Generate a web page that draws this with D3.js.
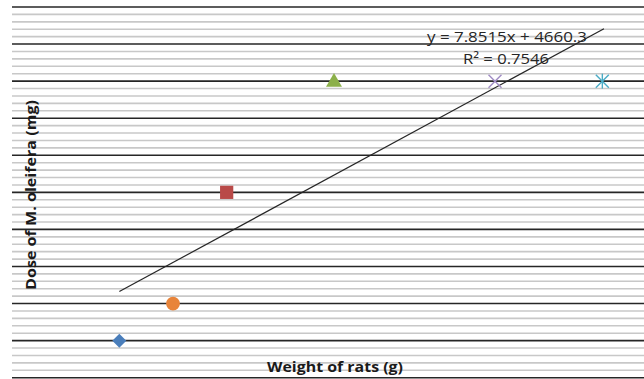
<!DOCTYPE html>
<html><head><meta charset="utf-8">
<script src="https://cdn.jsdelivr.net/npm/d3@7"></script>
<style>body{margin:0;background:#fff;overflow:hidden}svg{display:block}</style>
</head><body>
<svg id="c" width="644" height="379"></svg>
<script>
const weights = [200, 210, 220, 240, 270, 290];
const doses = [6100, 6200, 6500, 6800, 6800, 6800];
const seriesNames = ["s1","s2","s3","s4","s5","s6"];
const markerShapes = ["diamond","circle","square","triangle","x","star"];
const markerColors = ["#4a7ebb","#e8843a","#b94a48","#8cb04a","#a08cc4","#4bacc6"];
const equationText = "y = 7.8515x + 4660.3";
const r2Text = "R² = 0.7546";
const xTitle = "Weight of rats (g)";
const yTitle = "Dose of M. oleifera (mg)";
const yMajorTicks = d3.range(6000, 7001, 100);
const yMinorTicks = d3.range(6000, 7001, 20).filter(v => v % 100 !== 0);

const svg = d3.select("#c");
const x = d3.scaleLinear().domain([180, 300]).range([12, 656]);
const y = d3.scaleLinear().domain([6000, 7000]).range([377.7, 7]);
const FONT = "'Open Sans', 'Liberation Sans', sans-serif";

// gridlines
svg.append("g").selectAll("line").data(yMinorTicks).join("line")
  .attr("x1", 12).attr("x2", 644)
  .attr("y1", d => y(d)).attr("y2", d => y(d))
  .attr("stroke", "#c8c8c8").attr("stroke-width", 1.6);
svg.append("g").selectAll("line").data(yMajorTicks).join("line")
  .attr("x1", 12).attr("x2", 644)
  .attr("y1", d => y(d)).attr("y2", d => y(d))
  .attr("stroke", "#262626").attr("stroke-width", 1.6);

// trendline (least squares)
const n = weights.length;
const mx = d3.mean(weights), my = d3.mean(doses);
let sxy = 0, sxx = 0;
for (let i = 0; i < n; i++) { sxy += (weights[i]-mx)*(doses[i]-my); sxx += (weights[i]-mx)**2; }
const slope = sxy / sxx, icpt = my - slope * mx;
const x0 = d3.min(weights), x1 = d3.max(weights) + 0.3;
svg.append("line")
  .attr("x1", x(x0)).attr("y1", y(slope*x0+icpt))
  .attr("x2", x(x1)).attr("y2", y(slope*x1+icpt))
  .attr("stroke", "#262626").attr("stroke-width", 1.2);

// markers
const sym = {
  diamond: "M0,-7L7,0L0,7L-7,0Z",
  circle: d3.symbol().type(d3.symbolCircle).size(150)(),
  square: d3.symbol().type(d3.symbolSquare).size(175)(),
  triangle: d3.symbol().type(d3.symbolTriangle).size(110)()
};
const pts = weights.map((w, i) => ({w, d: doses[i], shape: markerShapes[i], color: markerColors[i], name: seriesNames[i]}));
const g = svg.append("g");
pts.forEach(p => {
  const gg = g.append("g").attr("transform", `translate(${x(p.w)},${y(p.d)})`);
  if (sym[p.shape]) {
    gg.append("path").attr("d", sym[p.shape]).attr("fill", p.color)
      .attr("transform", p.shape === "triangle" ? "translate(0,1)" : null);
  } else {
    const r = 6.5;
    gg.append("line").attr("x1",-r).attr("y1",-r).attr("x2",r).attr("y2",r).attr("stroke",p.color).attr("stroke-width",1.4);
    gg.append("line").attr("x1",-r).attr("y1",r).attr("x2",r).attr("y2",-r).attr("stroke",p.color).attr("stroke-width",1.4);
    if (p.shape === "star") {
      gg.append("line").attr("x1",0).attr("y1",-r-1).attr("x2",0).attr("y2",r+1).attr("stroke",p.color).attr("stroke-width",1.4);
    }
  }
});

// equation labels
svg.append("text").attr("x", 507).attr("y", 42).attr("text-anchor","middle")
  .attr("font-family", FONT).attr("font-size", 15).attr("fill","#262626")
  .attr("textLength", 160).attr("lengthAdjust","spacingAndGlyphs")
  .text(equationText);
svg.append("text").attr("x", 506).attr("y", 64).attr("text-anchor","middle")
  .attr("font-family", FONT).attr("font-size", 15).attr("fill","#262626")
  .attr("textLength", 86).attr("lengthAdjust","spacingAndGlyphs")
  .text(r2Text);

// axis titles
svg.append("text").attr("x", 335).attr("y", 372).attr("text-anchor","middle")
  .attr("font-family", FONT).attr("font-weight","bold").attr("font-size", 14).attr("fill","#1a1a1a")
  .attr("textLength", 136).attr("lengthAdjust","spacingAndGlyphs")
  .text(xTitle);
svg.append("text").attr("transform","translate(36,195) rotate(-90)").attr("text-anchor","middle")
  .attr("font-family", FONT).attr("font-weight","bold").attr("font-size", 14).attr("fill","#1a1a1a")
  .attr("textLength", 190).attr("lengthAdjust","spacingAndGlyphs")
  .text(yTitle);
</script>
</body></html>
